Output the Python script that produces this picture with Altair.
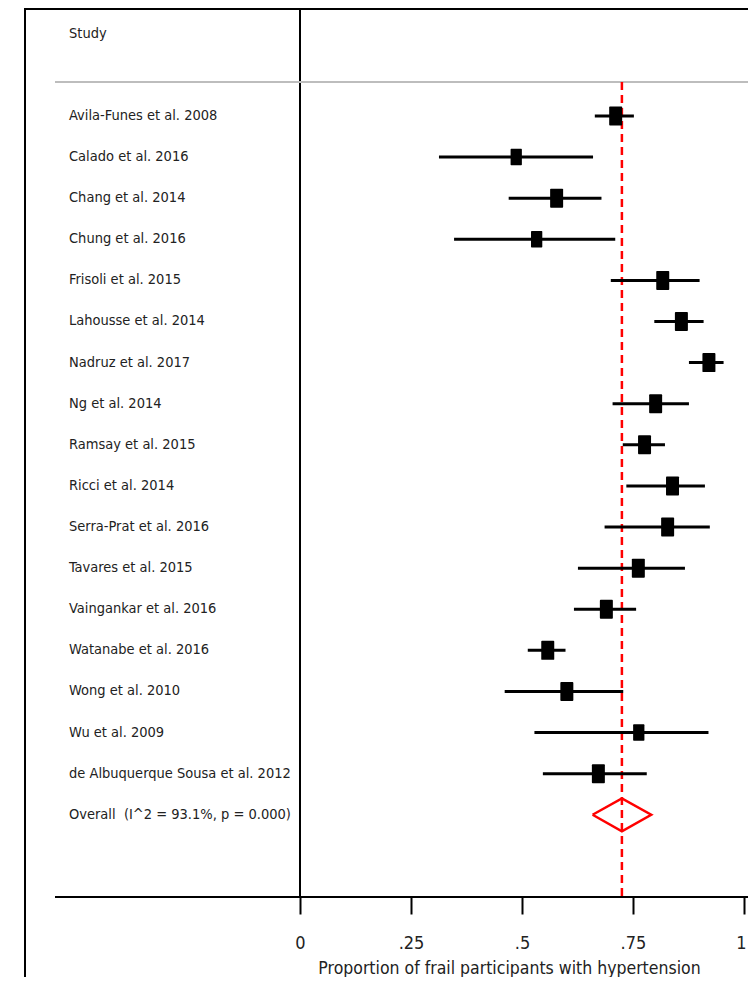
import altair as alt
import pandas as pd

studies = ["Avila-Funes et al. 2008", "Calado et al. 2016", "Chang et al. 2014",
           "Chung et al. 2016", "Frisoli et al. 2015", "Lahousse et al. 2014",
           "Nadruz et al. 2017", "Ng et al. 2014", "Ramsay et al. 2015",
           "Ricci et al. 2014", "Serra-Prat et al. 2016", "Tavares et al. 2015",
           "Vaingankar et al. 2016", "Watanabe et al. 2016", "Wong et al. 2010",
           "Wu et al. 2009", "de Albuquerque Sousa et al. 2012"]
est = [0.711, 0.487, 0.578, 0.533, 0.817, 0.859, 0.921, 0.801, 0.776, 0.839,
       0.828, 0.762, 0.690, 0.558, 0.601, 0.763, 0.672]
lo = [0.664, 0.313, 0.470, 0.347, 0.700, 0.798, 0.876, 0.704, 0.727, 0.735,
      0.686, 0.626, 0.617, 0.513, 0.461, 0.528, 0.547]
hi = [0.752, 0.660, 0.679, 0.710, 0.900, 0.909, 0.954, 0.876, 0.822, 0.912,
      0.923, 0.867, 0.757, 0.598, 0.728, 0.920, 0.781]
weight = [6.1, 4.6, 6.1, 4.6, 6.1, 6.1, 6.1, 6.1, 6.1, 6.1, 6.1, 6.1, 6.1, 6.1,
          6.1, 4.6, 6.1]

overall_label = "Overall\u00a0 (I^2 = 93.1%, p = 0.000)"
overall_est, overall_lo, overall_hi = 0.725, 0.659, 0.791
header = "Study"
x_title = "Proportion of frail participants with hypertension"
x_ticks = [0, 0.25, 0.5, 0.75, 1]

rows = list(range(1, len(studies) + 1))
overall_row = len(studies) + 1

df = pd.DataFrame({"study": studies, "est": est, "lo": lo, "hi": hi,
                   "w": weight, "row": rows})
labels = pd.DataFrame({"label": [header] + studies + [overall_label],
                       "row": [-1] + rows + [overall_row]})
diamond = pd.DataFrame({
    "x": [overall_lo, overall_est, overall_hi, overall_est, overall_lo],
    "row": [overall_row, overall_row - 0.4, overall_row, overall_row + 0.4, overall_row],
    "o": [0, 1, 2, 3, 4]})
ov = pd.DataFrame({"est": [overall_est], "z": [0.0]})

W, H, PB = 740, 889, 80
FONT = "Liberation Sans Narrow, DejaVu Sans Condensed, Arial Narrow, sans-serif"

# 0 -> 292 px, 1 -> 736 px (444 px per unit)
xs = alt.Scale(domain=[-0.65766, 1.00901], nice=False, zero=False)
ys = alt.Scale(domain=[-1.626, 20], reverse=True, nice=False, zero=False)

tick_expr = ("datum.value == 0 ? '0' : datum.value == 1 ? '1' : "
             "replace(format(datum.value, '.2~f'), '0.', '.')")
ax = alt.Axis(values=x_ticks, labelExpr=tick_expr, title=x_title,
              domain=False, grid=False, tickSize=17, tickWidth=2,
              tickColor="black", labelFontSize=18, labelFont=FONT,
              labelColor="#222", labelPadding=29, labelBaseline="middle",
              labelAlign={"condition": {"test": "datum.value == 1", "value": "right"},
                          "value": "center"},
              labelOffset={"condition": {"test": "datum.value == 1", "value": 2},
                           "value": 0},
              labelFlush=False, labelOverlap=False,
              titleFont=FONT, titleFontSize=17.5, titleFontWeight="normal",
              titleColor="#222", titleX=501, titleY=71, titleBaseline="middle",
              titleAnchor="middle", titleAlign="center")

frame_top = alt.Chart(ov).mark_rule(color="black", strokeWidth=2).encode(
    x=alt.value(17), x2=alt.value(W), y=alt.value(1))
frame_left = alt.Chart(ov).mark_rule(color="black", strokeWidth=2).encode(
    x=alt.value(17), y=alt.value(0), y2=alt.value(H + PB))
gray = alt.Chart(ov).mark_rule(color="#bdbdbd", strokeWidth=2).encode(
    x=alt.value(47), x2=alt.value(W), y=alt.value(74))
axis_line = alt.Chart(ov).mark_rule(color="black", strokeWidth=2).encode(
    x=alt.value(47), x2=alt.value(W), y=alt.value(H))
zero_rule = alt.Chart(ov).mark_rule(color="black", strokeWidth=2).encode(
    x=alt.X("z:Q", scale=xs, axis=ax), y=alt.value(0), y2=alt.value(H))
red = alt.Chart(ov).mark_rule(color="#ff0000", strokeWidth=2.5, strokeDash=[8, 5]).encode(
    x=alt.X("est:Q", scale=xs, axis=ax), y=alt.value(74), y2=alt.value(H))
ci = alt.Chart(df).mark_rule(color="black", strokeWidth=3).encode(
    x=alt.X("lo:Q", scale=xs, axis=ax), x2="hi:Q",
    y=alt.Y("row:Q", scale=ys, axis=None))
box_shape = ("M-0.6,-1 L0.6,-1 Q0.684,-1 0.684,-0.9 L0.684,0.9 Q0.684,1 0.6,1 "
             "L-0.6,1 Q-0.684,1 -0.684,0.9 L-0.684,-0.9 Q-0.684,-1 -0.6,-1 Z")
boxes = alt.Chart(df).mark_point(shape=box_shape, filled=True, color="black",
                                 opacity=1, strokeWidth=0).encode(
    x=alt.X("est:Q", scale=xs, axis=ax),
    y=alt.Y("row:Q", scale=ys, axis=None),
    size=alt.Size("w:Q", scale=alt.Scale(domain=[0, 6.1], range=[0, 361]), legend=None))
dia = alt.Chart(diamond).mark_line(color="#ff0000", strokeWidth=2.5).encode(
    x=alt.X("x:Q", scale=xs, axis=ax),
    y=alt.Y("row:Q", scale=ys, axis=None), order="o:Q")
text = alt.Chart(labels).mark_text(align="left", baseline="middle", font=FONT,
                                   fontSize=14.5, color="#222").encode(
    x=alt.value(61), y=alt.Y("row:Q", scale=ys, axis=None), text="label:N")

chart = alt.layer(zero_rule, frame_top, frame_left, gray, red, ci, boxes, dia,
                  axis_line, text).properties(
    width=W, height=H, autosize=alt.AutoSizeParams(type="none"),
    padding={"left": 0, "top": 0, "right": 0, "bottom": PB},
    background="white").configure_view(stroke=None)

chart.save("out.html", embed_options={"renderer": "svg", "actions": False})
